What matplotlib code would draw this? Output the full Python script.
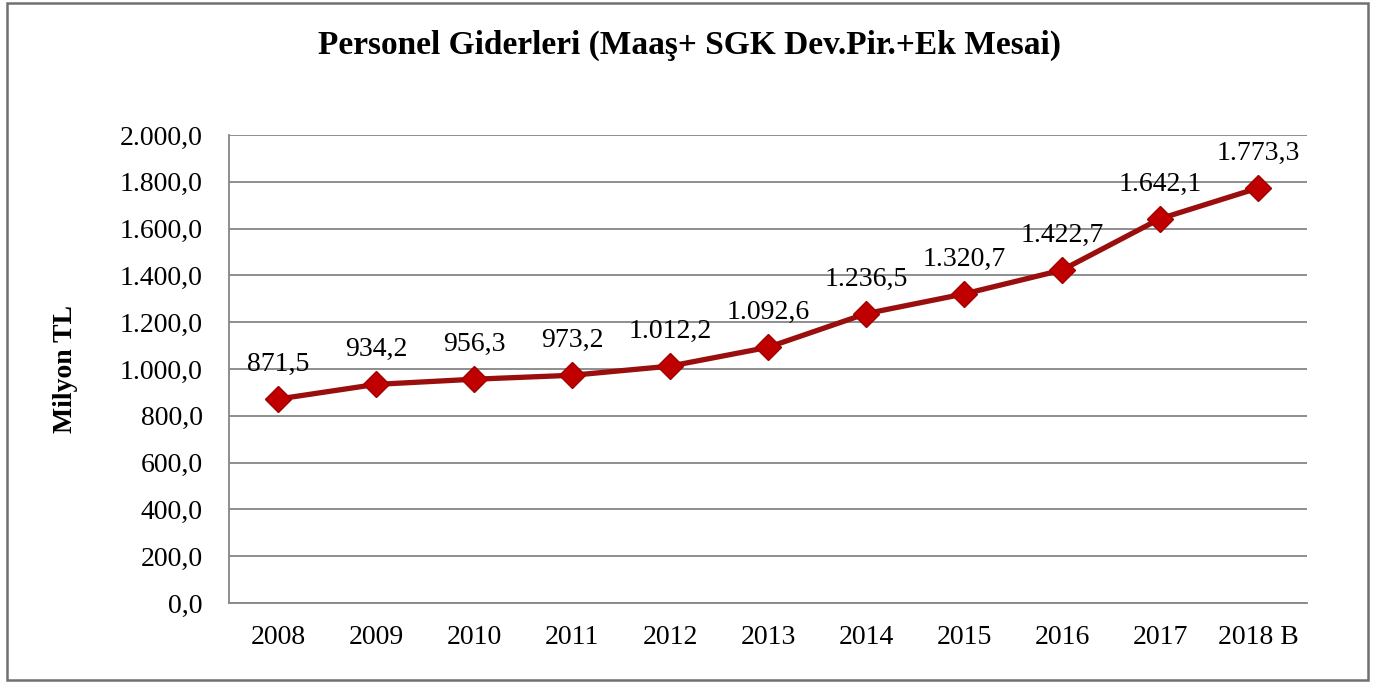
import matplotlib.pyplot as plt
from matplotlib.patches import Rectangle

# Veriler
years = ['2008', '2009', '2010', '2011', '2012', '2013', '2014', '2015', '2016', '2017', '2018 B']
values = [871.5, 934.2, 956.3, 973.2, 1012.2, 1092.6, 1236.5, 1320.7, 1422.7, 1642.1, 1773.3]
yticks = [0, 200, 400, 600, 800, 1000, 1200, 1400, 1600, 1800, 2000]


def tr(v):
    # Türkçe sayı biçimi: 1.236,5
    s = f'{v:,.1f}'
    return s.replace(',', 'X').replace('.', ',').replace('X', '.')


plt.rcParams['font.family'] = ['Liberation Serif', 'DejaVu Serif']

fig = plt.figure(figsize=(13.78, 6.84), dpi=100)
ax = fig.add_axes([229 / 1378, 1 - 603 / 684, (1307 - 229) / 1378, (603 - 135) / 684])

x = list(range(len(years)))
ax.plot(x, values, color='#9B0E0E', lw=3.8, marker='D', ms=13,
        mfc='#C00000', mec='#A00000', mew=1, zorder=3)

for xi, v in zip(x, values):
    ax.annotate(tr(v), (xi, v), xytext=(0, 16), textcoords='offset points',
                ha='center', va='bottom', fontsize=20)

ax.set_xlim(-0.5, len(years) - 0.5)
ax.set_ylim(0, 2000)
ax.set_yticks(yticks)
ax.set_yticklabels([tr(v) for v in yticks], fontsize=20)
ax.set_xticks(x)
ax.set_xticklabels(years, fontsize=20)
ax.tick_params(axis='x', length=0, pad=16)
ax.tick_params(axis='y', length=0, pad=19)

ax.grid(axis='y', color='#868686', lw=1.3)
ax.set_axisbelow(True)
for side in ['top', 'right']:
    ax.spines[side].set_visible(False)
for side in ['left', 'bottom']:
    ax.spines[side].set_color('#868686')
    ax.spines[side].set_linewidth(1.3)

ax.set_ylabel('Milyon TL', fontsize=20, fontweight='bold', labelpad=30)
fig.text(0.5, 1 - 45 / 684, 'Personel Giderleri (Maaş+ SGK Dev.Pir.+Ek Mesai)',
         ha='center', va='center', fontsize=24, fontweight='bold')

# dış çerçeve
fig.patches.append(Rectangle((7 / 1378, 1 - 680 / 684), (1368 - 7) / 1378, (680 - 3) / 684,
                             transform=fig.transFigure, fill=False, ec='#707070', lw=1.8))

plt.savefig('out.png', dpi=100)
